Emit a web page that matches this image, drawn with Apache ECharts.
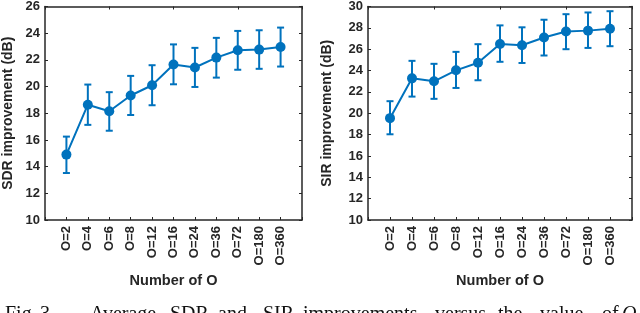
<!DOCTYPE html>
<html>
<head>
<meta charset="utf-8">
<script src="https://cdn.jsdelivr.net/npm/echarts@6/dist/echarts.min.js"></script>
<style>html,body{margin:0;padding:0;background:#fff}#c{width:640px;height:313px}</style>
</head>
<body>
<div id="c"></div>
<script>
const categories = ['O=2','O=4','O=6','O=8','O=12','O=16','O=24','O=36','O=72','O=180','O=360'];
const sdrMean = [14.9, 18.64, 18.15, 19.33, 20.1, 21.65, 21.43, 22.17, 22.72, 22.77, 22.96];
const sdrHigh = [16.25, 20.15, 19.58, 20.8, 21.6, 23.16, 22.9, 23.65, 24.17, 24.22, 24.42];
const sdrLow  = [13.52, 17.13, 16.69, 17.87, 18.6, 20.17, 19.97, 20.67, 21.26, 21.33, 21.5];
const sirMean = [19.54, 23.27, 22.99, 24.02, 24.73, 26.49, 26.37, 27.09, 27.65, 27.74, 27.92];
const sirHigh = [21.13, 24.91, 24.63, 25.75, 26.47, 28.23, 28.05, 28.76, 29.28, 29.44, 29.56];
const sirLow  = [18.03, 21.56, 21.35, 22.37, 23.09, 24.82, 24.71, 25.41, 26.0, 26.12, 26.28];
const sdrTicks = {min: 10, max: 26, step: 2};
const sirTicks = {min: 10, max: 30, step: 2};
const yNames = ['SDR improvement (dB)', 'SIR improvement (dB)'];
const xName = 'Number of O';
const captionWords = ['Fig.', '3.', 'Average', 'SDR', 'and', 'SIR', 'improvements', 'versus', 'the', 'value', 'of', 'O'];

const BLUE = '#0072BD';
const INK = '#262626';
const FONT = 'Liberation Sans, Arial, Helvetica, sans-serif';
const axisCats = [''].concat(categories, ['']);

function xAxes(gridIndex) {
  return [
    {
      type: 'category', gridIndex, data: axisCats, boundaryGap: false, position: 'bottom',
      name: xName, nameLocation: 'middle', nameGap: 53,
      nameTextStyle: {fontFamily: FONT, fontWeight: 'bold', fontSize: 14.5, color: INK},
      axisLine: {lineStyle: {color: INK, width: 1.5}},
      axisTick: {inside: true, length: 3, lineStyle: {color: INK, width: 1}, alignWithLabel: true},
      axisLabel: {rotate: 90, interval: 0, margin: 6, fontFamily: FONT, fontWeight: 'bold', fontSize: 13, color: INK},
      splitLine: {show: false}
    },
    {
      type: 'category', gridIndex, data: axisCats, boundaryGap: false, position: 'top',
      axisLine: {lineStyle: {color: INK, width: 1.5}},
      axisTick: {inside: true, length: 3, lineStyle: {color: INK, width: 1}},
      axisLabel: {show: false}, splitLine: {show: false}
    }
  ];
}
function yAxes(gridIndex, t, name, gap) {
  return [
    {
      type: 'value', gridIndex, min: t.min, max: t.max, interval: t.step, position: 'left',
      name, nameLocation: 'middle', nameGap: gap, nameRotate: 90,
      nameTextStyle: {fontFamily: FONT, fontWeight: 'bold', fontSize: 14, color: INK},
      axisLine: {show: true, lineStyle: {color: INK, width: 1.5}},
      axisTick: {show: true, inside: true, length: 3, lineStyle: {color: INK, width: 1}},
      axisLabel: {margin: 5, fontFamily: FONT, fontWeight: 'bold', fontSize: 13, color: INK},
      splitLine: {show: false}
    },
    {
      type: 'value', gridIndex, min: t.min, max: t.max, interval: t.step, position: 'right',
      axisLine: {show: true, lineStyle: {color: INK, width: 1.5}},
      axisTick: {show: true, inside: true, length: 3, lineStyle: {color: INK, width: 1}},
      axisLabel: {show: false}, splitLine: {show: false}
    }
  ];
}
function lineSeries(axIdx, mean) {
  return {
    type: 'line', xAxisIndex: axIdx.x, yAxisIndex: axIdx.y,
    data: mean.map((v, i) => [i + 1, v]),
    symbol: 'circle', symbolSize: 10, z: 3,
    itemStyle: {color: BLUE}, lineStyle: {color: BLUE, width: 2}, animation: false
  };
}
function errSeries(axIdx, low, high) {
  return {
    type: 'custom', xAxisIndex: axIdx.x, yAxisIndex: axIdx.y, z: 2,
    data: low.map((l, i) => [i + 1, l, high[i]]),
    renderItem: function (params, api) {
      const x = api.value(0);
      const lo = api.coord([x, api.value(1)]);
      const hi = api.coord([x, api.value(2)]);
      const w = 3.5;
      const style = {stroke: BLUE, lineWidth: 2, fill: null};
      return {
        type: 'group',
        children: [
          {type: 'line', shape: {x1: lo[0], y1: lo[1], x2: hi[0], y2: hi[1]}, style},
          {type: 'line', shape: {x1: lo[0] - w, y1: lo[1], x2: lo[0] + w, y2: lo[1]}, style},
          {type: 'line', shape: {x1: hi[0] - w, y1: hi[1], x2: hi[0] + w, y2: hi[1]}, style}
        ]
      };
    },
    animation: false
  };
}

const captionX = [5, 40, 90, 170, 218, 263, 303, 435, 498, 540, 602, 622];
const graphic = captionWords.map((w, i) => ({
  type: 'text', left: captionX[i], top: 305,
  style: {
    text: w, fill: '#111',
    font: (w === 'O' ? 'italic ' : '') + '20px "Liberation Serif", "Times New Roman", serif'
  }
}));

const chart = echarts.init(document.getElementById('c'), null, {renderer: 'canvas'});
chart.setOption({
  animation: false,
  backgroundColor: '#fff',
  grid: [
    {left: 38, top: 5, width: 264, height: 215},
    {left: 368, top: 5, width: 264, height: 215}
  ],
  xAxis: xAxes(0).concat(xAxes(1)),
  yAxis: yAxes(0, sdrTicks, yNames[0], 30).concat(yAxes(1, sirTicks, yNames[1], 34)),
  series: [
    errSeries({x: 0, y: 0}, sdrLow, sdrHigh),
    lineSeries({x: 0, y: 0}, sdrMean),
    errSeries({x: 2, y: 2}, sirLow, sirHigh),
    lineSeries({x: 2, y: 2}, sirMean)
  ],
  graphic
});
</script>
</body>
</html>
